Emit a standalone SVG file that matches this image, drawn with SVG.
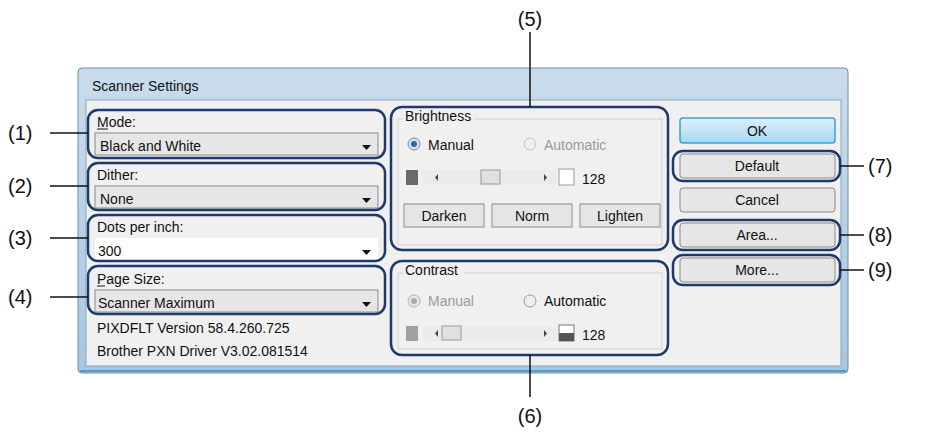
<svg xmlns="http://www.w3.org/2000/svg" width="926" height="440" viewBox="0 0 926 440">
<defs>
<style>
.t{font-family:"Liberation Sans",Arial,sans-serif;font-size:14px;fill:#111}
.g{fill:#9a9a9a}
.lab{font-family:"Liberation Sans",Arial,sans-serif;font-size:20px;fill:#111}
.hl{fill:none;stroke:#1e3a6b;stroke-width:2.5}
.cb{fill:#fff;stroke:#9a9a9a;stroke-width:1}
.btn{fill:#e6e6e6;stroke:#8a8a8a;stroke-width:1}
.ln{stroke:#111;stroke-width:1.5}
</style>
<linearGradient id="tb" x1="0" y1="0" x2="0" y2="1"><stop offset="0" stop-color="#c9dcec"/><stop offset="1" stop-color="#a9c6df"/></linearGradient>
<linearGradient id="bg" x1="0" y1="0" x2="0" y2="1"><stop offset="0" stop-color="#f4f4f4"/><stop offset="1" stop-color="#dcdcdc"/></linearGradient>
<linearGradient id="okg" x1="0" y1="0" x2="0" y2="1"><stop offset="0" stop-color="#dff1fb"/><stop offset="1" stop-color="#a6d6f0"/></linearGradient>
</defs>
<g id="dialog">
<rect x="78" y="68" width="770" height="305" rx="4" fill="url(#tb)" stroke="#6f8ea8"/>
<rect x="86" y="100" width="755" height="266" fill="#f0f0f0" stroke="#8aa6bd"/>
<line x1="80" y1="371" x2="846" y2="371" stroke="#4aa0c8" stroke-width="2"/>
<text class="t" x="92" y="91" font-size="16">Scanner Settings</text>
</g>
<g id="mode">
<text class="t" x="97" y="127">Mode:</text><line x1="97" y1="129" x2="108" y2="129" stroke="#111"/>
<rect class="btn" x="95" y="133" width="283" height="22" fill="url(#bg)"/>
<text class="t" x="100" y="151">Black and White</text>
<path d="M362 145h9l-4.5 5z" fill="#111"/>
<rect class="hl" x="88" y="110" width="297" height="48" rx="10"/>
</g>
<g id="dither">
<text class="t" x="97" y="180">Dither:</text>
<rect class="btn" x="95" y="186" width="283" height="22" fill="url(#bg)"/>
<text class="t" x="100" y="204">None</text>
<path d="M362 198h9l-4.5 5z" fill="#111"/>
<rect class="hl" x="88" y="163" width="297" height="47" rx="10"/>
</g>
<g id="dpi">
<text class="t" x="97" y="232">Dots per inch:</text>
<rect x="95" y="238" width="283" height="22" fill="#fff"/>
<text class="t" x="98" y="256">300</text>
<path d="M362 250h9l-4.5 5z" fill="#111"/>
<rect class="hl" x="88" y="215" width="297" height="46" rx="10"/>
</g>
<g id="pagesize">
<text class="t" x="97" y="284">Page Size:</text><line x1="97" y1="286" x2="105" y2="286" stroke="#111"/>
<rect class="btn" x="95" y="290" width="283" height="22" fill="url(#bg)"/>
<text class="t" x="98" y="308">Scanner Maximum</text>
<path d="M362 302h9l-4.5 5z" fill="#111"/>
<rect class="hl" x="88" y="266" width="297" height="48" rx="10"/>
<text class="t" x="97" y="333">PIXDFLT Version 58.4.260.725</text>
<text class="t" x="97" y="356">Brother PXN Driver V3.02.081514</text>
</g>
<g id="brightness">
<rect x="398" y="119" width="264" height="126" fill="none" stroke="#d0d0d0"/>
<rect x="403" y="110" width="72" height="14" fill="#f0f0f0"/>
<text class="t" x="405" y="121" font-size="13">Brightness</text>
<circle cx="414" cy="144" r="6" fill="#cfe3f2" stroke="#6c8aa5"/><circle cx="414" cy="144" r="3" fill="#2b6a9a"/>
<text class="t" x="428" y="150">Manual</text>
<circle cx="530" cy="144" r="6" fill="#eee" stroke="#c0c0c0"/>
<text class="t g" x="544" y="150">Automatic</text>
<rect x="406" y="170" width="12" height="15" fill="#6a6a6a"/>
<rect x="423" y="170" width="134" height="15" fill="#ebebeb"/>
<path d="M438 174v7l-3-3.5z M544 174v7l3-3.5z" fill="#444"/>
<rect x="481" y="170" width="19" height="14" fill="#e0e0e0" stroke="#999"/>
<rect class="cb" x="559" y="169" width="15" height="16"/>
<text class="t" x="582" y="184">128</text>
<rect class="btn" x="404" y="204" width="80" height="23" fill="url(#bg)"/>
<text class="t" x="444" y="221" text-anchor="middle">Darken</text>
<rect class="btn" x="492" y="204" width="80" height="23" fill="url(#bg)"/>
<text class="t" x="532" y="221" text-anchor="middle">Norm</text>
<rect class="btn" x="580" y="204" width="80" height="23" fill="url(#bg)"/>
<text class="t" x="620" y="221" text-anchor="middle">Lighten</text>
<rect class="hl" x="391" y="107" width="277" height="143" rx="11"/>
</g>
<g id="contrast">
<rect x="398" y="273" width="264" height="76" fill="none" stroke="#d0d0d0"/>
<rect x="403" y="264" width="62" height="14" fill="#f0f0f0"/>
<text class="t" x="405" y="275" font-size="13">Contrast</text>
<circle cx="414" cy="301" r="6" fill="#e8e8e8" stroke="#b0b0b0"/><circle cx="414" cy="301" r="3" fill="#aaa"/>
<text class="t g" x="428" y="306">Manual</text>
<circle cx="530" cy="301" r="6" fill="#eee" stroke="#999"/>
<text class="t" x="544" y="306">Automatic</text>
<rect x="406" y="326" width="12" height="15" fill="#a0a0a0"/>
<rect x="423" y="326" width="134" height="15" fill="#ebebeb"/>
<path d="M438 330v7l-3-3.5z M544 330v7l3-3.5z" fill="#444"/>
<rect x="442" y="326" width="19" height="14" fill="#e0e0e0" stroke="#999"/>
<rect x="559" y="325" width="15" height="16" fill="#fff" stroke="#777"/><rect x="559" y="333" width="15" height="8" fill="#555"/>
<text class="t" x="582" y="340">128</text>
<rect class="hl" x="391" y="261" width="277" height="94" rx="11"/>
</g>
<g id="buttons">
<rect x="680" y="118" width="155" height="25" rx="3" fill="url(#okg)" stroke="#3c9fd6" stroke-width="1.5"/>
<text class="t" x="757" y="136" text-anchor="middle">OK</text>
<rect class="btn" x="680" y="154" width="155" height="24" rx="3" fill="url(#bg)"/>
<text class="t" x="757" y="171" text-anchor="middle">Default</text>
<rect class="hl" x="673" y="151" width="167" height="30" rx="10"/>
<rect class="btn" x="680" y="188" width="155" height="24" rx="3" fill="url(#bg)"/>
<text class="t" x="757" y="205" text-anchor="middle">Cancel</text>
<rect class="btn" x="680" y="223" width="155" height="24" rx="3" fill="url(#bg)"/>
<text class="t" x="757" y="240" text-anchor="middle">Area...</text>
<rect class="hl" x="673" y="220" width="167" height="30" rx="10"/>
<rect class="btn" x="680" y="258" width="155" height="24" rx="3" fill="url(#bg)"/>
<text class="t" x="757" y="275" text-anchor="middle">More...</text>
<rect class="hl" x="673" y="255" width="167" height="30" rx="10"/>
</g>
<g id="connectors">
<line class="ln" x1="50" y1="133" x2="88" y2="133"/>
<line class="ln" x1="50" y1="186" x2="88" y2="186"/>
<line class="ln" x1="50" y1="238" x2="88" y2="238"/>
<line class="ln" x1="50" y1="297" x2="88" y2="297"/>
<line class="ln" x1="530" y1="32" x2="530" y2="107"/>
<line class="ln" x1="530" y1="355" x2="530" y2="397"/>
<line class="ln" x1="840" y1="166" x2="864" y2="166"/>
<line class="ln" x1="840" y1="235" x2="864" y2="235"/>
<line class="ln" x1="840" y1="270" x2="864" y2="270"/>
</g>
<g id="labels">
<text class="lab" x="8" y="140">(1)</text>
<text class="lab" x="8" y="193">(2)</text>
<text class="lab" x="8" y="245">(3)</text>
<text class="lab" x="8" y="304">(4)</text>
<text class="lab" x="530" y="26" text-anchor="middle">(5)</text>
<text class="lab" x="530" y="423" text-anchor="middle">(6)</text>
<text class="lab" x="868" y="173">(7)</text>
<text class="lab" x="868" y="242">(8)</text>
<text class="lab" x="868" y="277">(9)</text>
</g>
</svg>
